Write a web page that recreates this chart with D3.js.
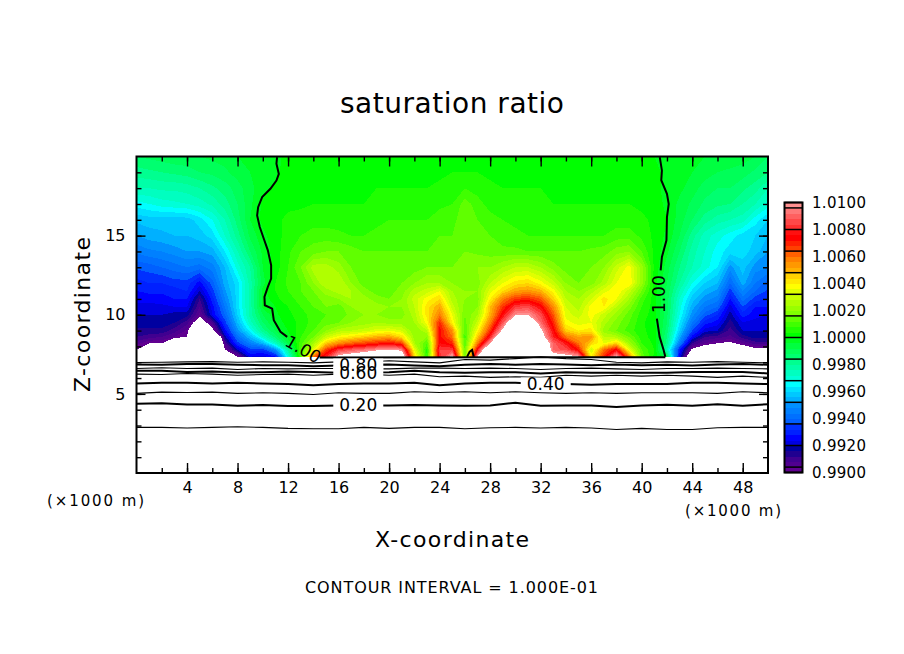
<!DOCTYPE html>
<html><head><meta charset="utf-8">
<script src="https://cdn.jsdelivr.net/npm/d3@7/dist/d3.min.js"></script>
<style>
html,body{margin:0;padding:0;background:#fff}
svg{display:block}
text{font-family:"DejaVu Sans",sans-serif;fill:#000}
.axis path{stroke:none}
.axis line{stroke:#000;stroke-width:1.4}
</style></head><body>
<svg id="chart" width="904" height="654"></svg>
<script>
// field: (saturation ratio - 1) x 10000, columns x = 0..50 km, rows at fieldZ
const fieldX = d3.range(0, 51);
const fieldZ = [7.35,7.8,8.2,8.6,9,9.5,10,10.5,11,11.5,12,13,14,15,16,17,18,19,20];
const row0735 = [-140,-140,-140,-150,-150,-160,-160,-130,-100,-76,-78,-72,-30,10,60,80,105,110,115,120,130,120,45,8,80,104,15,100,150,150,150,150,150,110,106,100,40,70,102,60,15,3,-10,-75,-120,-120,-120,-130,-120,-120,-120];
const row0780 = [-100,-104,-105,-130,-140,-160,-160,-100,-80,-66,-66,-50,-20,12,34,66,82,88,92,97,100,96,35,6,84,84,15,76,130,150,150,150,140,90,86,72,30,60,75,36,12,4,-24,-70,-102,-110,-110,-120,-110,-103,-102];
const row0820 = [-94,-100,-100,-120,-130,-160,-160,-92,-66,-54,-44,-26,-8,10,24,46,56,62,66,70,74,66,25,12,76,70,12,58,100,150,150,150,125,90,78,60,45,36,45,24,8,3,-18,-54,-88,-96,-100,-102,-96,-90,-90];
const row0860 = [-88,-90,-92,-96,-100,-150,-140,-82,-58,-44,-28,-14,-2,8,16,30,38,42,46,50,52,44,22,20,74,60,10,46,80,125,150,150,110,80,60,52,55,28,26,16,6,2,-16,-46,-74,-88,-90,-93,-86,-82,-82];
const row0900 = [-85,-85,-85,-90,-97,-130,-104,-74,-50,-34,-18,-8,0,6,12,20,26,28,30,34,36,32,20,28,74,55,12,38,68,104,140,140,104,76,46,40,42,22,16,10,5,2,-14,-40,-64,-78,-80,-90,-80,-80,-80];
const row0950 = [-82,-82,-82,-84,-90,-110,-92,-66,-44,-26,-12,-3,2,5,10,14,16,20,22,24,22,22,24,38,70,40,14,30,58,88,125,125,92,70,38,34,36,26,18,12,5,1,-12,-36,-56,-70,-74,-86,-76,-78,-78];
const row1000 = [-80,-80,-80,-82,-82,-97,-76,-60,-40,-22,-8,-1,3,6,10,12,12,18,20,20,18,18,26,42,58,36,16,24,50,76,98,100,86,64,34,30,38,30,22,14,6,2,-11,-32,-50,-62,-68,-82,-70,-74,-76];
const row1050 = [-78,-78,-77,-76,-76,-92,-74,-56,-38,-22,-3,0,4,8,12,16,14,20,24,22,20,20,28,42,52,30,18,20,48,68,84,86,76,56,32,26,38,40,28,18,8,2,-10,-30,-46,-56,-60,-78,-64,-72,-72];
const row1100 = [-74,-74,-74,-72,-72,-88,-70,-52,-38,-22,-3,3,6,10,14,18,20,24,22,18,16,20,30,38,44,26,20,18,40,58,68,70,64,46,28,24,32,42,36,24,10,2,-10,-28,-42,-50,-54,-72,-58,-66,-68];
const row1150 = [-72,-71,-71,-70,-68,-80,-66,-49,-38,-22,-2,4,8,12,16,22,26,24,18,14,14,18,26,30,36,24,20,20,34,44,52,54,50,38,24,20,26,34,40,30,16,2,-9,-24,-37,-45,-49,-66,-52,-60,-65];
const row1200 = [-70,-68,-68,-66,-66,-74,-62,-46,-38,-22,-6,4,9,12,20,28,28,20,14,14,14,16,20,24,24,20,18,18,28,36,42,44,38,30,20,16,18,26,36,40,22,2,-8,-20,-32,-40,-44,-60,-46,-56,-62];
const row1300 = [-63,-62,-60,-58,-56,-58,-54,-44,-30,-20,-4,2,8,16,26,26,22,16,14,14,14,14,14,16,16,16,20,20,20,24,28,28,24,18,14,14,16,20,30,38,22,3,-6,-16,-24,-30,-36,-50,-42,-50,-52];
const row1400 = [-55,-53,-52,-50,-48,-48,-46,-36,-24,-12,-3,2,7,12,14,16,16,14,12,12,12,12,12,12,14,14,16,15,14,13,13,12,12,12,12,12,13,14,18,20,12,3,-3,-12,-22,-28,-34,-38,-38,-42,-48];
const row1500 = [-48,-46,-45,-44,-44,-42,-38,-28,-18,-7,-1,2,6,8,10,10,9,8,8,9,10,10,10,10,12,12,15,14,12,10,9,8,8,8,8,8,8,8,10,10,7,3,-1,-8,-18,-26,-30,-34,-38,-40,-44];
const row1600 = [-43,-42,-42,-42,-42,-38,-32,-24,-14,-4,1,3,5,6,6,6,6,6,6,7,8,8,8,8,10,11,14,12,10,8,7,6,6,6,6,6,6,6,6,6,5,3,0,-6,-12,-18,-22,-24,-26,-34,-40];
const row1700 = [-34,-32,-30,-29,-28,-26,-23,-18,-12,-5,1,2,3,3,4,4,4,4,4,4,5,5,6,6,7,8,14,10,6,5,5,5,4,4,4,4,4,4,4,4,3,2,-1,-5,-9,-13,-15,-16,-20,-24,-30];
const row1800 = [-24,-24,-23,-23,-22,-20,-17,-14,-10,-5,-2,1,3,3,3,3,3,3,3,4,4,4,4,4,5,5,8,6,5,4,4,4,4,3,3,3,3,3,3,3,2,1,-1,-3,-6,-10,-12,-12,-15,-18,-24];
const row1900 = [-18,-17,-16,-15,-14,-12,-11,-9,-6,-4,-2,-1,2,3,3,3,3,3,3,3,3,3,3,3,3,4,4,4,3,3,3,3,3,3,3,3,3,3,2,2,1,1,-1,-2,-4,-6,-8,-9,-10,-13,-16];
const row2000 = [-12,-11,-10,-9,-9,-8,-7,-6,-4,-3,-2,-1,1,1,2,2,2,2,2,2,2,2,2,2,2,2,3,3,3,2,2,2,2,2,2,2,2,2,1,1,1,0,-1,-2,-3,-4,-5,-5,-6,-8,-12];
const fieldRows = [row0735,row0780,row0820,row0860,row0900,row0950,row1000,row1050,row1100,row1150,row1200,row1300,row1400,row1500,row1600,row1700,row1800,row1900,row2000];

// colour of each 0.0004 band, from 0.9900 upward
const bandColors = ["#600090","#500090","#400090","#200090","#0000a0","#0000e0","#0000ff","#0020ff","#0030ff","#0060ff","#0070ff","#0080ff","#0090ff","#00b0ff","#00c8ff","#00e0ff","#00ffff","#00ffd8","#00ffc0","#00ffa8","#00ff90","#00ff70","#00ff58","#00ff40","#00ff20","#00ff00","#20ff00","#40ff00","#60ff00","#80ff00","#98ff00","#b0ff00","#c8ff00","#e0ff00","#ffff00","#ffe800","#ffd000","#ffb000","#ff9800","#ff8000","#ff6000","#ff4000","#ff2000","#ff0000","#ff1010","#ff3030","#ff4848","#ff6060","#ff7878","#ff9090"];
const bandLevels = d3.range(-100, 100, 4);
const separatorLevels = [-100,-96,-80,-64,-48,-32,-16,0,16,32,48,64,80,96,100];
const colorbarTicks = [-100,-80,-60,-40,-20,0,20,40,60,80,100];

// contour lines below the cloud base: z of each level at x = 0,2,...,50 km
const lineX = d3.range(0, 51, 2);
const level01 = [2.88,2.88,2.84,2.88,2.92,2.88,2.82,2.80,2.80,2.88,2.82,2.88,2.88,2.80,2.86,2.88,2.84,2.88,2.84,2.75,2.82,2.75,2.75,2.86,2.88,2.88];
const level02 = [4.37,4.40,4.33,4.33,4.25,4.29,4.23,4.23,4.27,4.27,4.27,4.29,4.27,4.25,4.27,4.44,4.25,4.27,4.27,4.17,4.27,4.31,4.25,4.35,4.25,4.35];
const level03 = [5.03,5.11,5.09,5.11,5.03,5.07,5.03,4.96,5.07,5.03,5.03,5.13,5.09,5.13,5.07,5.13,5.07,5.03,5.07,5.03,5.07,5.07,5.07,5.03,5.13,5.07];
const level04 = [5.66,5.70,5.70,5.66,5.70,5.66,5.62,5.55,5.62,5.66,5.66,5.70,5.55,5.66,5.70,5.70,5.62,5.62,5.57,5.62,5.62,5.62,5.70,5.70,5.66,5.62];
const level05 = [6.25,6.22,6.29,6.25,6.18,6.22,6.25,6.18,6.25,6.25,6.18,6.25,6.08,6.12,6.04,6.08,6.04,6.18,6.12,6.18,6.12,6.18,6.12,6.04,6.12,6.04];
const level06 = [6.46,6.46,6.39,6.41,6.35,6.37,6.41,6.39,6.33,6.35,6.37,6.46,6.37,6.33,6.37,6.37,6.29,6.37,6.33,6.33,6.33,6.33,6.39,6.39,6.39,6.29];
const level07 = [6.60,6.65,6.60,6.63,6.54,6.60,6.58,6.60,6.60,6.58,6.58,6.63,6.63,6.60,6.63,6.60,6.54,6.60,6.63,6.58,6.54,6.60,6.60,6.63,6.60,6.58];
const level08 = [6.86,6.84,6.88,6.88,6.84,6.81,6.81,6.75,6.79,6.84,6.86,6.79,6.75,6.84,6.88,6.84,6.88,6.86,6.81,6.86,6.81,6.84,6.79,6.86,6.88,6.84];
const level09 = [6.98,7.00,7.02,7.04,7.00,7.02,7.00,6.96,7.02,7.00,7.09,7.02,6.96,7.17,7.13,7.23,7.34,7.23,7.17,7.00,6.96,7.02,7.00,7.04,7.00,6.96];
const lineLevels = [level01,level02,level03,level04,level05,level06,level07,level08,level09];

// the 1.00 contour, as [x km, z km] runs
const oneLeft = [[11.13,19.96],[11.08,19.54],[11.27,18.9],[11.08,18.48],[10.6,17.96],[9.95,17.43],[9.63,16.8],[9.55,16.28],[9.76,15.54],[10.08,14.8],[10.4,14.07],[10.66,13.13],[10.66,12.28],[10.4,11.76],[10.13,11.13],[10.16,10.6],[10.74,10.39],[10.87,9.66],[11.4,8.92],[11.93,8.6]];
const oneRightUpper = [[41.43,19.96],[41.6,19.12],[41.55,18.5],[42,17.64],[42.14,17.0],[42,16.17],[41.96,14.7],[41.6,13.65],[41.5,12.8]];
const oneRightLower = [[41.2,9.76],[41.42,8.6],[41.74,7.76],[41.87,7.34]];
const oneBase = [[14.5,7.3],[41.87,7.32]];
const onePeak = [[26.17,7.34],[26.38,7.66],[26.57,7.77],[26.7,7.34]];
const oneRuns = [oneLeft,oneRightUpper,oneRightLower,oneBase,onePeak];

const lineLabels = ["0.20","0.40","0.60","0.80"];
const lineLabelX = [17.56,32.4,17.56,17.56];
const lineLabelZ = [4.33,5.66,6.35,6.85];

const xMajor = d3.range(4, 49, 4);
const xMinor = d3.range(2, 50, 2);
const zMajor = [5,10,15];
const zMinor = d3.range(1, 20);

const L=136.5,R=768,T=156.5,B=473;
const x = d3.scaleLinear().domain([0,50]).range([L,R]);
const z = d3.scaleLinear().domain([0,20]).range([B,T]);
const svg = d3.select("#chart");

// filled field
const nx=fieldX.length, nz=fieldZ.length;
const ixToX=d3.scaleLinear().domain(d3.range(nx)).range(fieldX).clamp(true);
const izToZ=d3.scaleLinear().domain(d3.range(nz)).range(fieldZ).clamp(true);
const proj=d3.geoTransform({point(a,b){this.stream.point(x(ixToX(a-.5)),z(izToZ(b-.5)));}});
const path=d3.geoPath(proj);
const polys=d3.contours().size([nx,nz]).smooth(true).thresholds(bandLevels.concat([100]))(fieldRows.flat());
const fillOf=d3.scaleOrdinal().domain(bandLevels.concat([100])).range(bandColors.concat(["#ffffff"]));
svg.append("g").selectAll("path").data(polys).join("path")
  .attr("d",path).attr("fill",d=>fillOf(d.value)).attr("shape-rendering","crispEdges");

// contour lines
const lineGen=d3.line().x((d,i)=>x(lineX[i])).y(d=>z(d));
svg.append("g").selectAll("path").data(lineLevels).join("path")
  .attr("d",lineGen).attr("fill","none").attr("stroke","#000")
  .attr("stroke-width",(d,i)=>i%2?2:1.1);
const runGen=d3.line().x(d=>x(d[0])).y(d=>z(d[1]));
svg.append("g").selectAll("path").data(oneRuns).join("path")
  .attr("d",runGen).attr("fill","none").attr("stroke","#000").attr("stroke-width",2);

// contour labels
const labG=svg.append("g");
lineLabels.forEach((t,i)=>{
  labG.append("rect").attr("x",x(lineLabelX[i])-25).attr("width",50)
    .attr("y",z(lineLabelZ[i])-6).attr("height",12).attr("fill","#fff");
});
lineLabels.forEach((t,i)=>{
  labG.append("text").attr("x",x(lineLabelX[i])).attr("y",z(lineLabelZ[i])+6.5)
    .attr("text-anchor","middle").attr("font-size",17).text(t);
});
labG.append("text").attr("transform",`translate(${x(13.2)},${z(7.82)}) rotate(30)`)
  .attr("y",6).attr("text-anchor","middle").attr("font-size",17).text("1.00");
labG.append("text").attr("transform",`translate(${x(41.4)},${z(11.3)}) rotate(-90)`)
  .attr("y",6).attr("text-anchor","middle").attr("font-size",17).text("1.00");

// axes (ticks point inward)
function ax(gen,tr){const g=svg.append("g").attr("class","axis").attr("transform",tr).call(gen);
  g.selectAll("text").attr("font-size",16).attr("font-family",'"DejaVu Sans",sans-serif');return g;}
ax(d3.axisBottom(x).tickValues(xMinor).tickSize(-5).tickFormat(""),`translate(0,${B})`);
ax(d3.axisTop(x).tickValues(xMinor).tickSize(-5).tickFormat(""),`translate(0,${T})`);
ax(d3.axisLeft(z).tickValues(zMinor).tickSize(-5).tickFormat(""),`translate(${L},0)`);
ax(d3.axisRight(z).tickValues(zMinor).tickSize(-5).tickFormat(""),`translate(${R},0)`);
ax(d3.axisBottom(x).tickValues(xMajor).tickSize(-10).tickPadding(9).tickFormat(d3.format("d")),`translate(0,${B})`);
ax(d3.axisTop(x).tickValues(xMajor).tickSize(-10).tickFormat(""),`translate(0,${T})`);
ax(d3.axisLeft(z).tickValues(zMajor).tickSize(-9).tickPadding(11).tickFormat(d3.format("d")),`translate(${L},0)`);
ax(d3.axisRight(z).tickValues(zMajor).tickSize(-9).tickFormat(""),`translate(${R},0)`);
svg.append("rect").attr("x",L).attr("y",T).attr("width",R-L).attr("height",B-T)
  .attr("fill","none").attr("stroke","#000").attr("stroke-width",2);

// colour bar
const cb=d3.scaleLinear().domain([-100,100]).range([472.5,202.5]);
const cbX=784.5,cbW=18;
svg.append("g").selectAll("rect").data(bandLevels).join("rect")
  .attr("x",cbX).attr("width",cbW).attr("y",d=>cb(d+4)).attr("height",d=>cb(d)-cb(d+4)+.5)
  .attr("fill",(d,i)=>bandColors[i]).attr("shape-rendering","crispEdges");
svg.append("g").selectAll("line").data(separatorLevels).join("line")
  .attr("x1",cbX).attr("x2",cbX+cbW).attr("y1",d=>cb(d)).attr("y2",d=>cb(d))
  .attr("stroke","#000").attr("stroke-width",1.5);
svg.append("rect").attr("x",cbX).attr("y",cb(100)).attr("width",cbW).attr("height",cb(-100)-cb(100))
  .attr("fill","none").attr("stroke","#000").attr("stroke-width",2);
svg.append("g").selectAll("text").data(colorbarTicks).join("text")
  .attr("x",812).attr("y",d=>cb(d)+5.5).attr("font-size",15).attr("textLength",54)
  .attr("lengthAdjust","spacing").text(d=>d3.format(".4f")(1+d/10000));

// titles
function label(t,px,py,size,len,rot){
  const e=svg.append("text").attr("font-size",size).attr("text-anchor","middle").attr("textLength",len)
    .attr("lengthAdjust","spacing").text(t);
  e.attr("transform",`translate(${px},${py})`+(rot?` rotate(${rot})`:""));
}
label("saturation ratio",452,113,28,224);
label("X-coordinate",452,547,22,154);
label("Z-coordinate",90,314.5,22,155,-90);
label("CONTOUR INTERVAL = 1.000E-01",451.5,593,16,293);
label("(\u00d71000 m)",95.5,506,15,97);
label("(\u00d71000 m)",733,516,15,96);
</script>
</body></html>
